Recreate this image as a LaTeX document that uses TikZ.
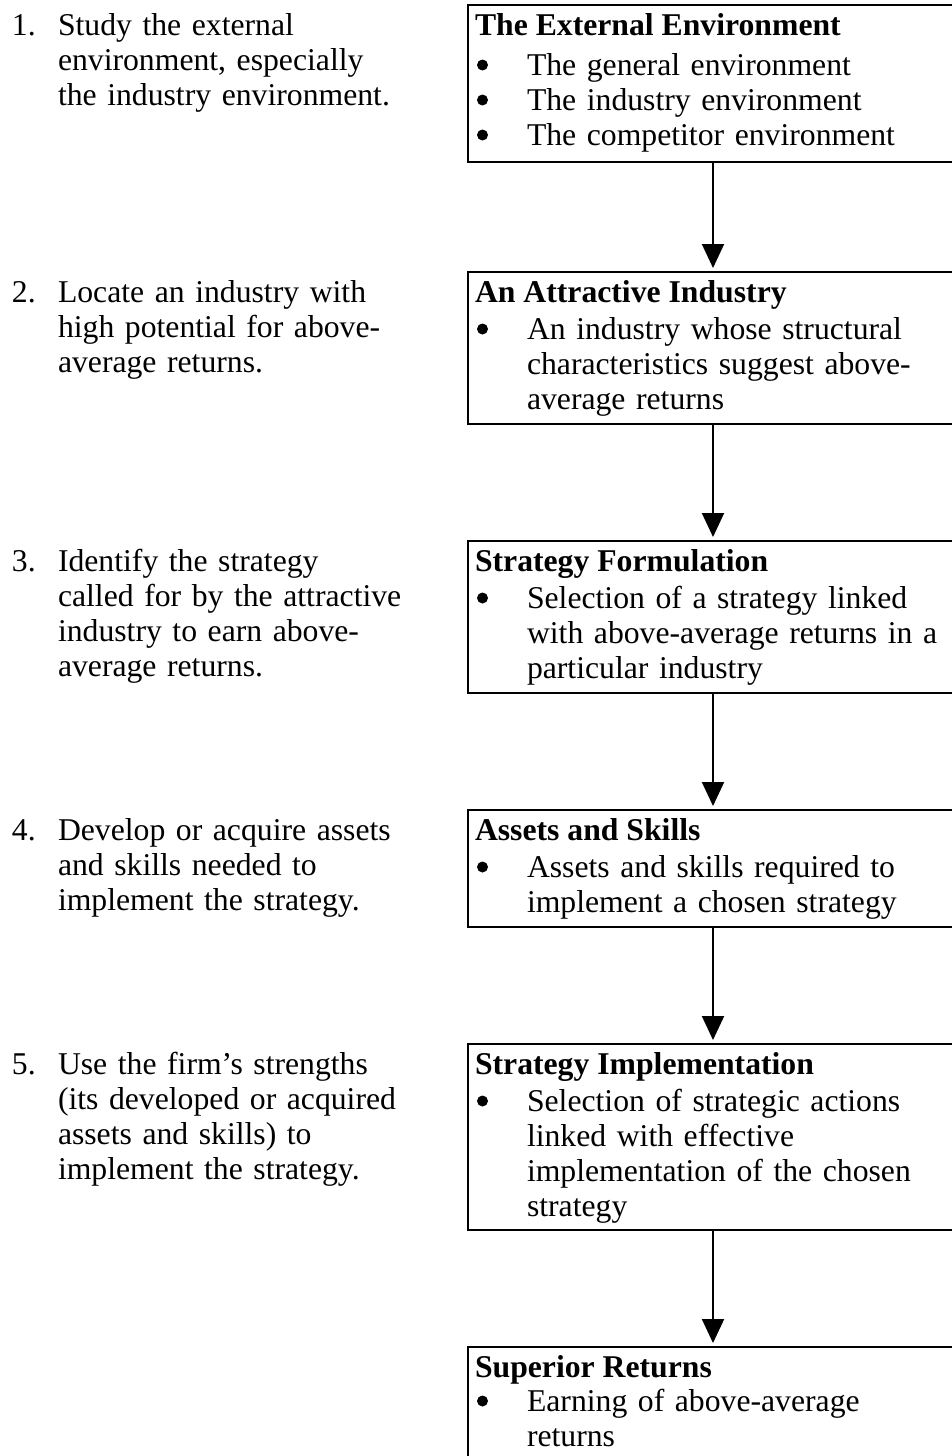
\documentclass[tikz,border=0pt]{standalone}
\usepackage{fontspec}
\setmainfont{Liberation Serif}
\usetikzlibrary{arrows.meta}
\begin{document}
\begin{tikzpicture}[x=1pt,y=-1pt,
  every node/.style={inner sep=0pt, outer sep=0pt},
  bodyfont/.style={font=\fontsize{31.7pt}{35pt}\selectfont},
  numlabel/.style={bodyfont, anchor=base west},
  steptext/.style={bodyfont, anchor=base west, align=left, text width=415pt},
  boxtitle/.style={bodyfont, anchor=base west, font=\fontsize{31.7pt}{35pt}\selectfont\bfseries},
  boxbody/.style={bodyfont, anchor=base west, align=left, text width=425pt},
  boxframe/.style={draw, line width=2.6pt, minimum width=490pt},
  dot/.style={circle, fill=black, minimum size=11pt},
  flowarrow/.style={line width=2pt, -{Triangle[width=22pt,length=24pt]}, shorten >=4pt}
]
\useasboundingbox (0,0) rectangle (952,1456);
\clip (0,0) rectangle (952,1456);

% frames of the six stages (right side runs past the page edge)
\node[boxframe, minimum height=157pt] (b1) at (713,83.5) {};
\node[boxframe, minimum height=152pt] (b2) at (713,348) {};
\node[boxframe, minimum height=152pt] (b3) at (713,617) {};
\node[boxframe, minimum height=117pt] (b4) at (713,868.5) {};
\node[boxframe, minimum height=186pt] (b5) at (713,1137) {};
\node[boxframe, minimum height=173pt] (b6) at (713,1433.5) {};

% arrows between stages
\draw[flowarrow] (b1.south) -- (b2.north);
\draw[flowarrow] (b2.south) -- (b3.north);
\draw[flowarrow] (b3.south) -- (b4.north);
\draw[flowarrow] (b4.south) -- (b5.north);
\draw[flowarrow] (b5.south) -- (b6.north);

% stage 1
\node[boxtitle] (t1) at (475,35) {The External Environment};
\node[dot] (d1a) at (482.5,65) {};
\node[boxbody] (x1a) at (527,75) {The general environment};
\node[dot] (d1b) at (482.5,100) {};
\node[boxbody] (x1b) at (527,110) {The industry environment};
\node[dot] (d1c) at (482.5,135) {};
\node[boxbody] (x1c) at (527,145) {The competitor environment};

% stage 2
\node[boxtitle] (t2) at (475,302) {An Attractive Industry};
\node[dot] (d2) at (482.5,329) {};
\node[boxbody] (x2) at (527,339) {An industry whose structural\\characteristics suggest above-\\average returns};

% stage 3
\node[boxtitle] (t3) at (475,571) {Strategy Formulation};
\node[dot] (d3) at (482.5,598) {};
\node[boxbody] (x3) at (527,608) {Selection of a strategy linked\\with above-average returns in a\\particular industry};

% stage 4
\node[boxtitle] (t4) at (475,840) {Assets and Skills};
\node[dot] (d4) at (482.5,867) {};
\node[boxbody] (x4) at (527,877) {Assets and skills required to\\implement a chosen strategy};

% stage 5
\node[boxtitle] (t5) at (475,1074) {Strategy Implementation};
\node[dot] (d5) at (482.5,1101) {};
\node[boxbody] (x5) at (527,1111) {Selection of strategic actions\\linked with effective\\implementation of the chosen\\strategy};

% stage 6
\node[boxtitle] (t6) at (475,1377) {Superior Returns};
\node[dot] (d6) at (482.5,1401) {};
\node[boxbody] (x6) at (527,1411) {Earning of above-average\\returns};

% numbered steps on the left
\node[numlabel] (n1) at (12,35) {1.};
\node[steptext] (s1) at (58,35) {Study the external\\environment, especially\\the industry environment.};
\node[numlabel] (n2) at (12,302) {2.};
\node[steptext] (s2) at (58,302) {Locate an industry with\\high potential for above-\\average returns.};
\node[numlabel] (n3) at (12,571) {3.};
\node[steptext] (s3) at (58,571) {Identify the strategy\\called for by the attractive\\industry to earn above-\\average returns.};
\node[numlabel] (n4) at (12,840) {4.};
\node[steptext] (s4) at (58,840) {Develop or acquire assets\\and skills needed to\\implement the strategy.};
\node[numlabel] (n5) at (12,1074) {5.};
\node[steptext] (s5) at (58,1074) {Use the firm’s strengths\\(its developed or acquired\\assets and skills) to\\implement the strategy.};
\end{tikzpicture}
\end{document}
